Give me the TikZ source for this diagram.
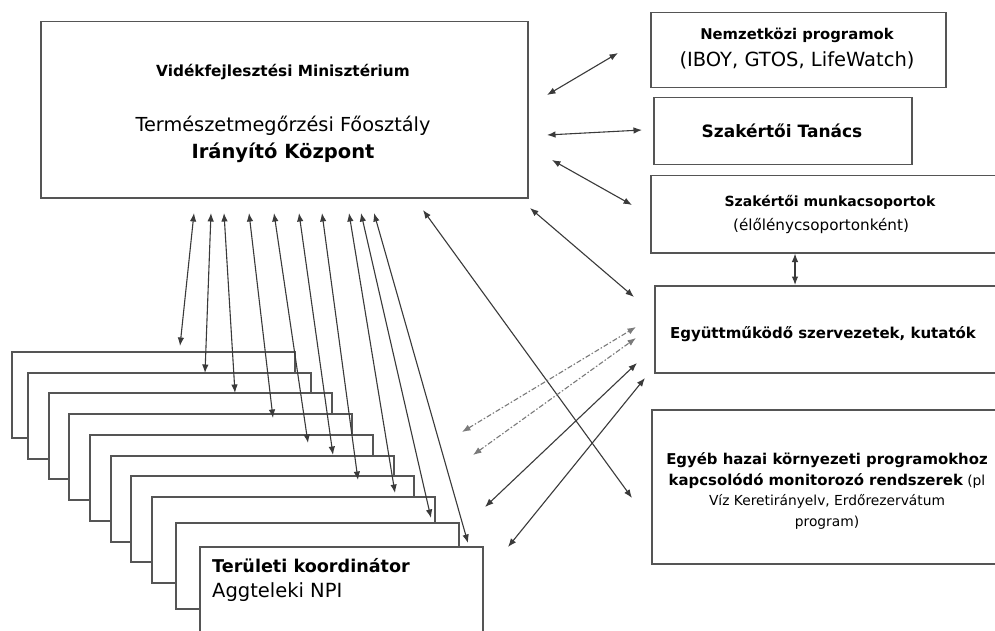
\documentclass[tikz,border=0pt]{standalone}
\usepackage{fontspec}
\setmainfont{DejaVu Sans}
\usetikzlibrary{arrows.meta}
\definecolor{boxgray}{HTML}{555555}
\definecolor{linegray}{HTML}{3A3A3A}
\definecolor{dashgray}{HTML}{7A7A7A}
\begin{document}
\begin{tikzpicture}[x=1pt,y=-1pt,
  box/.style={draw=boxgray, line width=1.5pt, fill=white, inner sep=0pt, anchor=north west},
  card/.style={box, minimum width=283pt, minimum height=86pt},
  link/.style={draw=linegray, line width=1.1pt, {Latex[length=8.5pt,width=6.5pt]}-{Latex[length=8.5pt,width=6.5pt]}},
  dlink/.style={link, draw=dashgray, dash pattern=on 5pt off 2pt on 1.5pt off 2pt},
  lbl/.style={inner sep=0pt, text=black},
  fb/.style={font=\bfseries\fontsize{#1}{#1}\selectfont},
  fr/.style={font=\fontsize{#1}{#1}\selectfont}
]
\useasboundingbox (0,0) rectangle (995,631);
\clip (0,0) rectangle (995,631);
\fill[white] (0,0) rectangle (995,631);

% main box
\node[box, minimum width=487pt, minimum height=176pt] (main) at (40,21) {};
\node[lbl, fb=15.3] (m1) at (283,72) {Vidékfejlesztési Minisztérium};
\node[lbl, fr=19.3] (m2) at (283,126) {Természetmegőrzési Főosztály};
\node[lbl, fb=19.5] (m3) at (283,153) {Irányító Központ};

% right boxes
\node[box, minimum width=295pt, minimum height=75pt] (nem) at (650,12) {};
\node[lbl, fb=14.8] (n1) at (797,35) {Nemzetközi programok};
\node[lbl, fr=19.5] (n2) at (797,60) {(IBOY, GTOS, LifeWatch)};

\node[box, minimum width=258pt, minimum height=67pt] (tan) at (653,97) {};
\node[lbl, fb=17] (ta1) at (782,131) {Szakértői Tanács};

\node[box, minimum width=360pt, minimum height=77pt] (munka) at (650,175) {};
\node[lbl, fb=14] (mu1) at (830,202) {Szakértői munkacsoportok};
\node[lbl, fr=15.2] (mu2) at (821,226) {(élőlénycsoportonként)};

\node[box, minimum width=360pt, minimum height=87pt] (egy) at (654,285) {};
\node[lbl, fb=15] (eg1) at (823,334) {Együttműködő szervezetek, kutatók};

\node[box, minimum width=360pt, minimum height=154pt] (egyeb) at (651,409) {};
\node[lbl, align=center, font=\fontsize{13.8}{20.5}\selectfont] (eb1) at (827,491)
  {{\bfseries\fontsize{14.9}{20.5}\selectfont Egyéb hazai környezeti programokhoz}\\
   {\bfseries\fontsize{14.9}{20.5}\selectfont kapcsolódó monitorozó rendszerek} (pl\\
   Víz Keretirányelv, Erdőrezervátum\\
   program)};

% stacked cards
\node[card] (c1) at (11,351) {};
\node[card] (c2) at (27,372) {};
\node[card] (c3) at (48,392) {};
\node[card] (c4) at (68,413) {};
\node[card] (c5) at (89,434) {};
\node[card] (c6) at (110,455) {};
\node[card] (c7) at (130,475) {};
\node[card] (c8) at (151,496) {};
\node[card] (c9) at (175,522) {};
\node[card] (c10) at (199,546) {};
\node[lbl, fb=17.6, anchor=west] (k1) at (212,566) {Területi koordinátor};
\node[lbl, fr=19.5, anchor=west] (k2) at (212,592) {Aggteleki NPI};

% arrow end points
\coordinate (u1) at (194,213); \coordinate (d1) at (180,346);
\coordinate (u2) at (211,213); \coordinate (d2) at (205,373);
\coordinate (u3) at (224,213); \coordinate (d3) at (235,393);
\coordinate (u4) at (249,213); \coordinate (d4) at (273,418);
\coordinate (u5) at (274,213); \coordinate (d5) at (308,443);
\coordinate (u6) at (299,213); \coordinate (d6) at (333,455);
\coordinate (u7) at (322,213); \coordinate (d7) at (358,480);
\coordinate (u8) at (349,213); \coordinate (d8) at (395,493);
\coordinate (u9) at (361,213); \coordinate (d9) at (431,518);
\coordinate (u10) at (374,213); \coordinate (d10) at (468,543);

\coordinate (nemA) at (547,95);  \coordinate (nemB) at (618,53);
\coordinate (tanA) at (547,135); \coordinate (tanB) at (642,130);
\coordinate (mkA) at (552,160);  \coordinate (mkB) at (632,205);
\coordinate (egA) at (530,208);  \coordinate (egB) at (634,297);
\coordinate (ebA) at (423,210);  \coordinate (ebB) at (632,498);
\coordinate (vx) at (795,0);
\coordinate (q1A) at (462,432);  \coordinate (q1B) at (636,327);
\coordinate (q2A) at (473,455);  \coordinate (q2B) at (636,338);
\coordinate (s1A) at (485,507);  \coordinate (s1B) at (637,363);
\coordinate (s2A) at (508,547);  \coordinate (s2B) at (645,378);

% connectors
\foreach \i in {1,...,10} {\draw[link] (u\i) -- (d\i);}
\draw[link] (nemA) -- (nemB);
\draw[link] (tanA) -- (tanB);
\draw[link] (mkA) -- (mkB);
\draw[link] (egA) -- (egB);
\draw[link] (ebA) -- (ebB);
\draw[link] (munka.south -| vx) -- (egy.north -| vx);
\draw[dlink] (q1A) -- (q1B);
\draw[dlink] (q2A) -- (q2B);
\draw[link] (s1A) -- (s1B);
\draw[link] (s2A) -- (s2B);
\end{tikzpicture}
\end{document}
